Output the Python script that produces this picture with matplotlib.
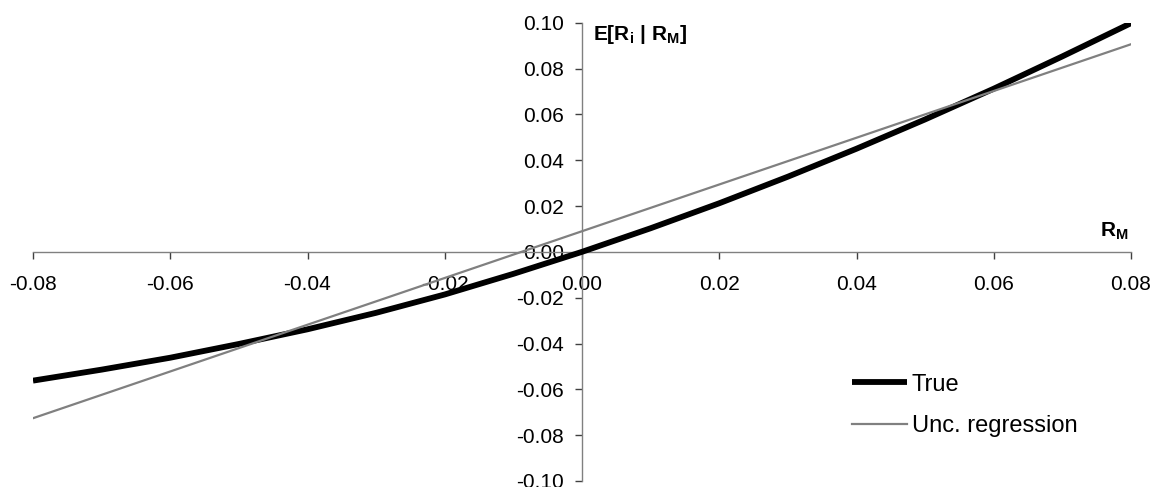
import matplotlib
matplotlib.use("Agg")
import matplotlib.pyplot as plt
from matplotlib.ticker import FixedLocator, FormatStrFormatter

# Data
x_true = [-0.08, -0.07, -0.06, -0.05, -0.04, -0.03, -0.02, -0.01, 0.00,
          0.01, 0.02, 0.03, 0.04, 0.05, 0.06, 0.07, 0.08]
y_true = [-0.0562, -0.0514, -0.0462, -0.0402, -0.0338, -0.0266, -0.0186, -0.0096, 0.0000,
          0.0103, 0.0212, 0.0328, 0.0450, 0.0578, 0.0712, 0.0853, 0.0998]
x_reg = [-0.08, 0.08]
y_reg = [-0.0726, 0.0906]
x_ticks = [-0.08, -0.06, -0.04, -0.02, 0.00, 0.02, 0.04, 0.06, 0.08]
y_ticks = [-0.10, -0.08, -0.06, -0.04, -0.02, 0.00, 0.02, 0.04, 0.06, 0.08, 0.10]
series_names = ["True", "Unc. regression"]

plt.rcParams['font.family'] = ['Liberation Sans', 'DejaVu Sans']
plt.rcParams['mathtext.fontset'] = 'custom'
plt.rcParams['mathtext.rm'] = 'Liberation Sans'
plt.rcParams['mathtext.bf'] = 'Liberation Sans:bold'
plt.rcParams['mathtext.it'] = 'Liberation Sans:italic'

fig = plt.figure(figsize=(11.52, 4.87), dpi=100)
ax = fig.add_axes([33/1152, 6/487, 1098/1152, 458.3/487])

ax.plot(x_true, y_true, color='black', lw=4.2, solid_capstyle='butt', label=series_names[0], zorder=3)
ax.plot(x_reg, y_reg, color='#808080', lw=1.6, label=series_names[1], zorder=4)

ax.set_xlim(-0.08, 0.08)
ax.set_ylim(-0.10, 0.10)

for s in ['top', 'right']:
    ax.spines[s].set_visible(False)
ax.spines['bottom'].set_position(('data', 0))
ax.spines['left'].set_position(('data', 0))
for s in ['bottom', 'left']:
    ax.spines[s].set_color('#808080')
    ax.spines[s].set_linewidth(1.0)

ax.xaxis.set_major_locator(FixedLocator(x_ticks))
ax.yaxis.set_major_locator(FixedLocator(y_ticks))
ax.xaxis.set_major_formatter(FormatStrFormatter('%.2f'))
ax.yaxis.set_major_formatter(FormatStrFormatter('%.2f'))
ax.tick_params(axis='x', direction='out', length=5, width=1, color='#404040', pad=12, labelsize=15)
ax.tick_params(axis='y', direction='out', length=5, width=1, color='#404040', pad=8, labelsize=15)

ax.text(0.0016, 0.0998, r'$\mathbf{E[R_i\ |\ R_M]}$', fontsize=15, ha='left', va='top')
ax.text(0.0797, 0.0045, r'$\mathbf{R_M}$', fontsize=15, ha='right', va='bottom')

leg = ax.legend(loc='upper left', bbox_to_anchor=(0.737, 0.255), frameon=False,
                fontsize=17, handlelength=2.35, handletextpad=0.2, labelspacing=0.82,
                borderaxespad=0)

fig.savefig('out.png', dpi=100)
